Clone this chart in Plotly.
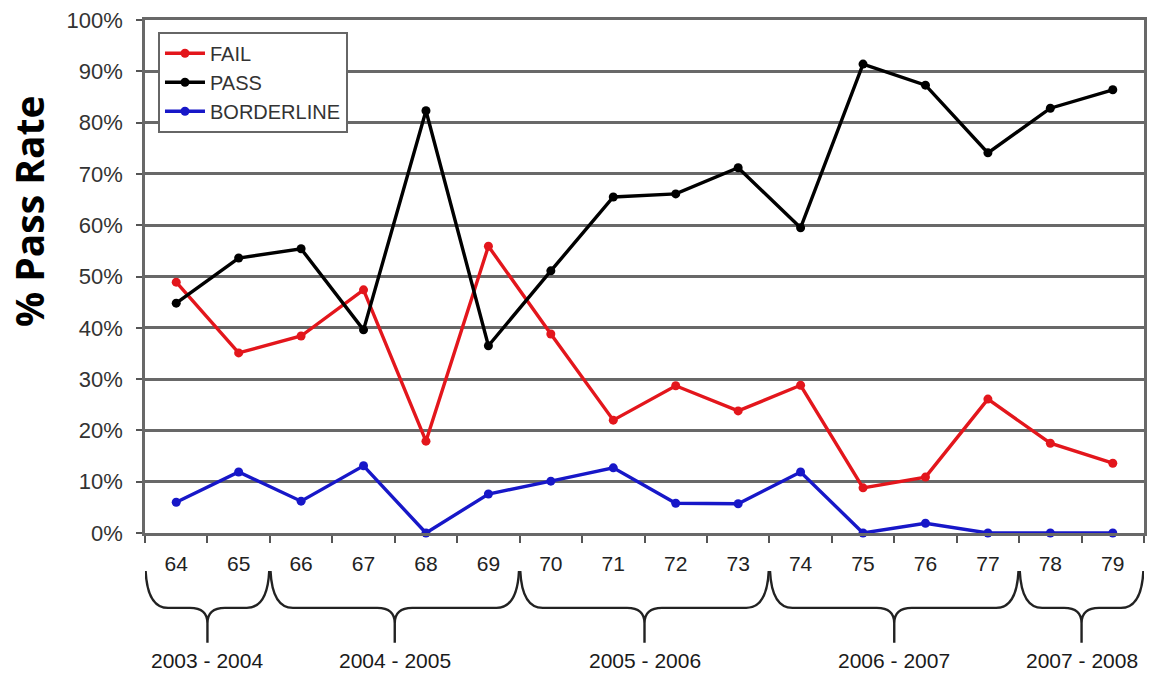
import plotly.graph_objects as go

sessions = ["64", "65", "66", "67", "68", "69", "70", "71", "72", "73", "74", "75", "76", "77", "78", "79"]
fail = [48.9, 35.1, 38.4, 47.4, 17.9, 55.9, 38.8, 22.0, 28.7, 23.8, 28.8, 8.8, 10.9, 26.1, 17.5, 13.6]
pass_ = [44.8, 53.6, 55.4, 39.6, 82.3, 36.5, 51.1, 65.5, 66.1, 71.2, 59.5, 91.4, 87.3, 74.1, 82.8, 86.4]
borderline = [6.0, 11.9, 6.2, 13.1, 0.0, 7.6, 10.1, 12.7, 5.8, 5.7, 11.9, 0.0, 1.9, 0.0, 0.0, 0.0]

groups = ["2003 - 2004", "2004 - 2005", "2005 - 2006", "2006 - 2007", "2007 - 2008"]
group_start = ["64", "66", "70", "74", "78"]
group_end = ["65", "69", "73", "77", "79"]

FONT = "Liberation Sans, Arial, sans-serif"
GRID = "#686868"

fig = go.Figure()
series = [("FAIL", fail, "#e3161c"), ("PASS", pass_, "#000000"), ("BORDERLINE", borderline, "#1717c8")]
for i, (name, vals, col) in enumerate(series):
    fig.add_trace(go.Scatter(
        x=sessions, y=vals, name=name, mode="lines+markers",
        line=dict(color=col, width=3.4),
        marker=dict(color=col, size=9),
        cliponaxis=False, legendgroup=name,
    ))

# braces under category groups (category serial numbers used for x)
y_top, y_mid, y_tip = -0.074, -0.146, -0.214
r, s = 0.33, 0.28
for g, a, b in zip(groups, group_start, group_end):
    i0 = sessions.index(a) - 0.46
    i1 = sessions.index(b) + 0.46
    c = (i0 + i1) / 2
    path = (f"M {i0 - 0.03},{y_top} Q {i0},{y_mid} {i0 + r},{y_mid} L {c - s},{y_mid} "
            f"Q {c},{y_mid} {c},{y_mid - 0.03} L {c},{y_tip} "
            f"M {c},{y_mid - 0.03} Q {c},{y_mid} {c + s},{y_mid} L {i1 - r},{y_mid} "
            f"Q {i1},{y_mid} {i1 + 0.03},{y_top}")
    fig.add_shape(type="path", path=path, xref="x", yref="paper",
                  line=dict(color="#222222", width=2.4))
    fig.add_annotation(x=c, y=-0.248, xref="x", yref="paper", text=g, showarrow=False,
                       font=dict(family=FONT, size=21, color="#1a1a1a"),
                       xanchor="center", yanchor="middle")

fig.add_annotation(x=-0.116, y=0.628, xref="paper", yref="paper", text="<b>% Pass Rate</b>",
                   textangle=-90, showarrow=False,
                   font=dict(family="Open Sans, sans-serif", size=39, color="#000000"),
                   xanchor="center", yanchor="middle")

fig.update_layout(
    width=1150, height=675,
    margin=dict(l=145, r=3, t=20, b=142),
    paper_bgcolor="white", plot_bgcolor="white",
    showlegend=True,
    legend=dict(
        x=0.013, y=0.977, xanchor="left", yanchor="top",
        bgcolor="white", bordercolor="#666666", borderwidth=2,
        font=dict(family=FONT, size=20, color="#333333"),
        traceorder="normal", tracegroupgap=9, itemwidth=40,
    ),
    xaxis=dict(
        type="category", tickson="boundaries", ticks="outside", ticklen=7, tickwidth=1.5,
        tickcolor="#555555", showgrid=False, showline=True, linecolor=GRID, linewidth=2.5,
        mirror=True, tickfont=dict(family=FONT, size=21, color="#222222"),
        ticklabelstandoff=10, range=[-0.5, 15.5],
    ),
    yaxis=dict(
        range=[0, 100], dtick=10, ticksuffix="%", ticks="outside", ticklen=6,
        tickwidth=1.5, tickcolor="#555555",
        showgrid=True, gridcolor=GRID, gridwidth=2.5,
        showline=True, linecolor=GRID, linewidth=2.5, mirror=True, zeroline=False,
        tickfont=dict(family=FONT, size=22, color="#333333"), ticklabelstandoff=9,
    ),
)

fig.write_html("out.html", config={"displayModeBar": False},
               post_script="document.body.style.margin='0';window.dispatchEvent(new Event('resize'));")
